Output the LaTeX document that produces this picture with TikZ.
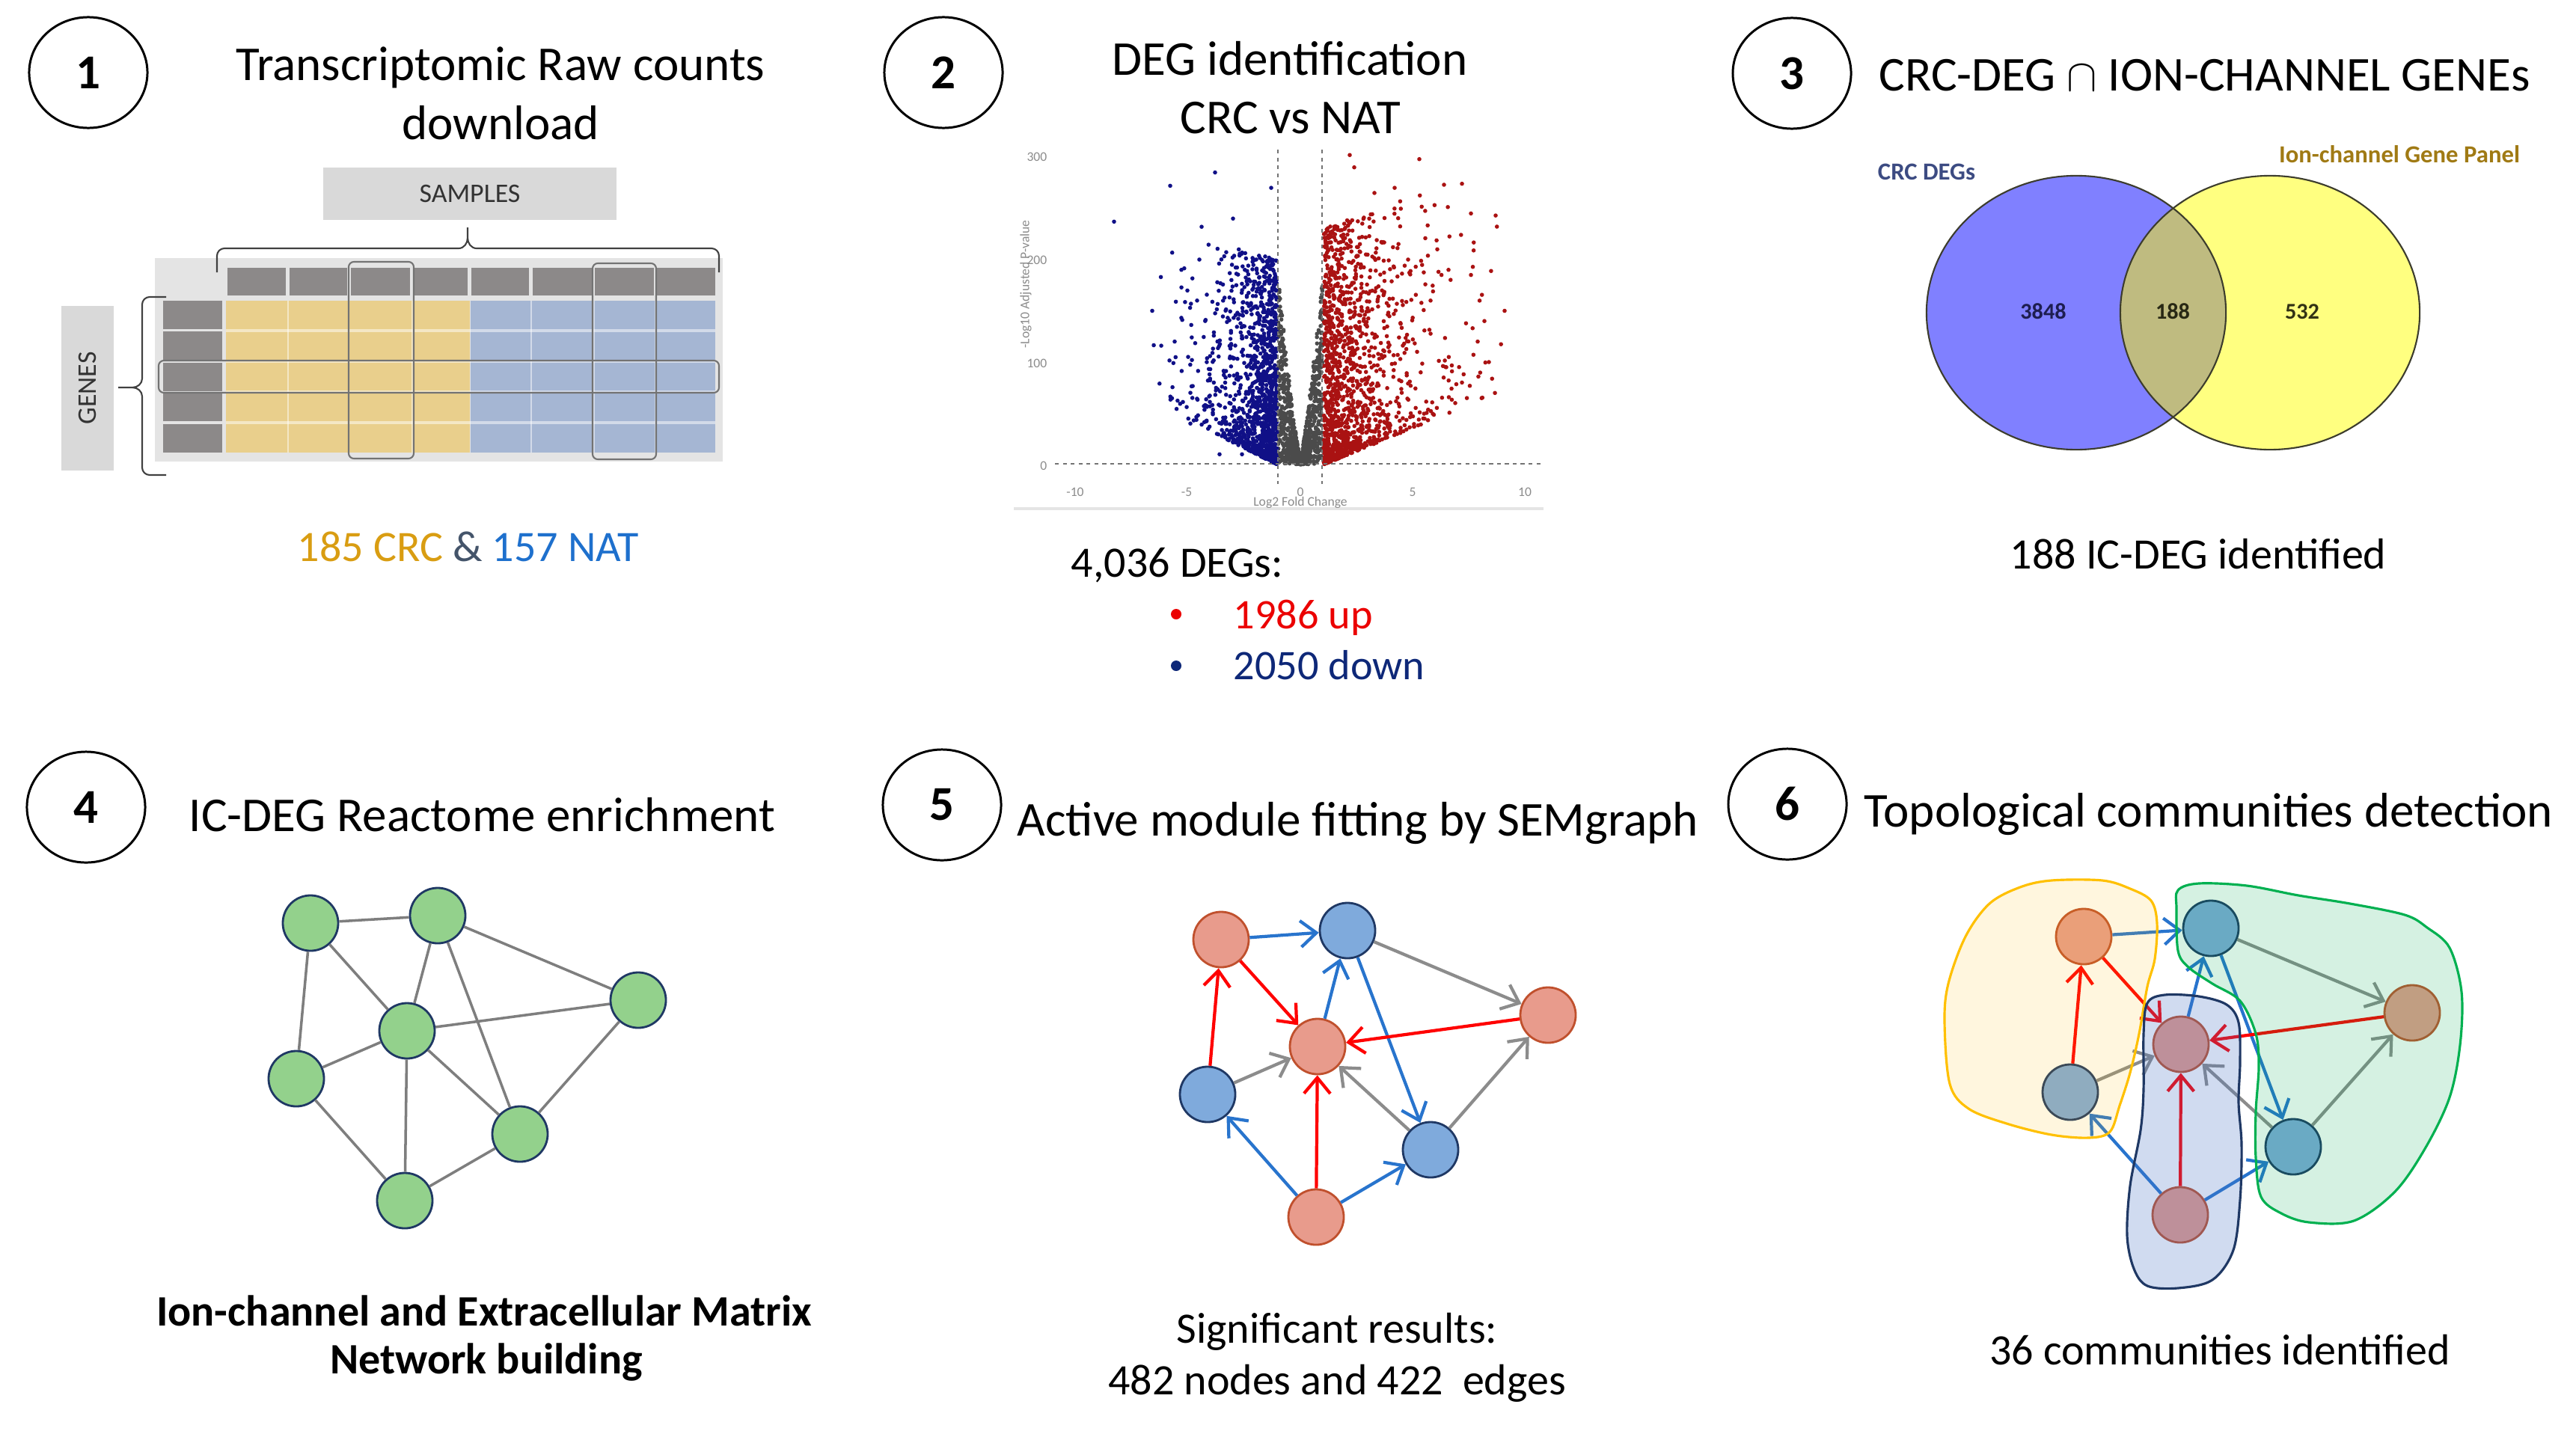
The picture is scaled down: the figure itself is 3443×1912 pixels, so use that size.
\documentclass[tikz,border=0pt]{standalone}
\usepackage{fontspec}
\setmainfont{Carlito}
\usetikzlibrary{shapes.geometric,arrows.meta}
\definecolor{cGold}{RGB}{217,157,18}
\definecolor{cAmp}{RGB}{68,84,106}
\definecolor{cNat}{RGB}{30,112,205}
\definecolor{cUp}{RGB}{235,0,0}
\definecolor{cDown}{RGB}{14,40,120}
\definecolor{tGray}{RGB}{140,137,137}
\definecolor{tBg}{RGB}{228,228,228}
\definecolor{tYel}{RGB}{233,207,140}
\definecolor{tBlu}{RGB}{165,182,211}
\definecolor{lblBox}{RGB}{217,217,217}
\definecolor{vRed}{RGB}{170,18,18}
\definecolor{vBlue}{RGB}{16,16,135}
\definecolor{vGray}{RGB}{75,75,75}
\definecolor{venBlue}{RGB}{128,128,255}
\definecolor{venYel}{RGB}{255,255,128}
\definecolor{venOl}{RGB}{191,187,128}
\definecolor{venLine}{RGB}{60,60,45}
\definecolor{gFill}{RGB}{147,209,140}
\definecolor{nNavy}{RGB}{31,56,100}
\definecolor{nSalmon}{RGB}{232,155,140}
\definecolor{nSalmonL}{RGB}{192,80,45}
\definecolor{nBlue}{RGB}{127,170,220}
\definecolor{eBlue}{RGB}{40,116,205}
\definecolor{eRed}{RGB}{255,0,0}
\definecolor{eGray}{RGB}{140,140,140}
\definecolor{bYel}{RGB}{255,192,0}
\definecolor{bGreen}{RGB}{0,176,80}
\definecolor{bBlueF}{RGB}{68,114,196}
\tikzset{
 numc/.style={draw, ellipse, line width=0.85pt, minimum width=1.58cm, minimum height=1.48cm, inner sep=0pt, font=\fontsize{18.5}{22}\selectfont\bfseries},
 ttl/.style={font=\fontsize{18.5}{22}\selectfont, inner sep=0pt},
 lbl/.style={font=\fontsize{16.5}{20}\selectfont, inner sep=0pt},
 gnode/.style={circle, draw=nNavy, fill=gFill, line width=0.8pt, minimum size=0.74cm, inner sep=0pt},
 rnode/.style={circle, draw=nSalmonL, fill=nSalmon, line width=0.8pt, minimum size=0.74cm, inner sep=0pt},
 bnode/.style={circle, draw=nNavy, fill=nBlue, line width=0.8pt, minimum size=0.74cm, inner sep=0pt},
 gline/.style={draw=eGray!90!black, line width=1pt},
 arr/.style={line width=1.2pt, -{Straight Barb[length=6pt,width=10pt]}},
 ered/.style={arr, draw=eRed},
 eblue/.style={arr, draw=eBlue},
 egray/.style={arr, draw=eGray},
 bracec/.style={draw=black!75, line width=0.6pt},
 overl/.style={draw=black!55, line width=0.6pt, rounded corners=2pt},
 tick/.style={font=\fontsize{5}{6}\selectfont, text=black!45, inner sep=0pt},
 blob/.style={line width=0.9pt},
}
\begin{document}
\begin{tikzpicture}[x=0.01cm, y=-0.01cm]
\useasboundingbox (0,0) rectangle (3443,1912);
\fill[white] (0,0) rectangle (3443,1912);

%% ================= PANEL 1 =================
\node[numc] (c1) at (118,97) {1};
\node[ttl, anchor=base] (t1a) at (669,107) {Transcriptomic Raw counts};
\node[ttl, anchor=base] (t1b) at (669,186) {download};
\node[fill=lblBox, minimum width=3.91cm, minimum height=0.69cm, inner sep=0pt,
      font=\fontsize{10.2}{12}\selectfont, text=black!80] (samp) at (628,259) {SAMPLES};
\node[fill=lblBox, minimum width=2.20cm, minimum height=0.70cm, inner sep=0pt, rotate=90,
      font=\fontsize{10.2}{12}\selectfont, text=black!80] (genes) at (117,519) {GENES};
% table
\fill[tBg] (207,345) rectangle (966,617);
\foreach \a/\b in {304/382,387/464,469/548,553/625,630/707,712/792,795/874,877/956}
  \fill[tGray] (\a,358) rectangle (\b,395);
\fill[tYel] (302,402) rectangle (628,605);
\fill[tBlu] (629,402) rectangle (956,605);
\foreach \x in {385,466,551,710,794,876}
  \draw[white, opacity=0.5, line width=0.7pt] (\x,402) -- (\x,605);
\foreach \y in {442,483,524,565}
  \draw[white, opacity=0.5, line width=0.9pt] (302,\y) -- (956,\y);
\foreach \a/\b in {402/440,443/482,485/523,525/563,567/605}
  \fill[tGray] (218,\a) rectangle (297,\b);
\draw[overl] (466,350) rectangle (553,613);
\draw[overl] (792,352) rectangle (877,614);
\draw[overl] (212,482) rectangle (961,525);
% braces
\draw[bracec] (290,364) -- (290,342) to[out=90,in=180] (300,332) -- (613,332) to[out=0,in=-90] (625,318) -- (625,304);
\draw[bracec] (625,318) to[out=-90,in=180] (637,332) -- (951,332) to[out=0,in=90] (961,342) -- (961,364);
\draw[bracec] (222,397) -- (200,397) to[out=180,in=90] (190,407) -- (190,506) to[out=-90,in=0] (177,518) -- (158,518);
\draw[bracec] (177,518) to[out=0,in=90] (190,530) -- (190,625) to[out=-90,in=180] (200,635) -- (222,635);
\node[lbl, anchor=base] (cnt1) at (626,750) {\textcolor{cGold}{185 CRC} \textcolor{cAmp}{\&} \textcolor{cNat}{157 NAT}};

%% ================= PANEL 2 =================
\node[numc] (c2) at (1261,97) {2};
\node[ttl, anchor=base] (t2a) at (1724,100) {DEG identification};
\node[ttl, anchor=base] (t2b) at (1725,178) {CRC vs NAT};
% volcano
\draw[black!10, line width=1pt] (1355,680) -- (2063,680);
\pgfmathsetseed{20}
\foreach \i in {1,...,900}{
  \pgfmathsetmacro{\fc}{1.98*rnd-0.99}
  \pgfmathsetmacro{\pp}{(6+180*(abs(\fc)+0.001)^1.25)*(0.01+0.99*rnd)^1.1}
  \fill[vGray] ({1738+30*\fc},{621-1.37*\pp}) circle[radius=0.028cm];
}
\foreach \i in {1,...,1300}{
  \pgfmathsetmacro{\d}{-1.05*ln(0.005+0.995*rnd)}
  \pgfmathsetmacro{\pmin}{11*\d}
  \pgfmathsetmacro{\pp}{\pmin+(200+6*\d-\pmin)*(0.01+0.99*rnd)^1.9}
  \fill[vBlue] ({1738-30*(1.04+\d)},{621-1.37*\pp}) circle[radius=0.028cm];
}
\foreach \i in {1,...,1400}{
  \pgfmathsetmacro{\d}{-1.45*ln(0.004+0.996*rnd)}
  \pgfmathsetmacro{\pmin}{9*\d}
  \pgfmathsetmacro{\pp}{\pmin+(230+8*\d-\pmin)*(0.01+0.99*rnd)^1.8}
  \fill[vRed] ({1738+30*(1.04+\d)},{621-1.37*\pp}) circle[radius=0.028cm];
}
\foreach \f/\p in {-8.3/237,-6.6/150,-5.8/272,-3.8/285,-1.3/270,-4.4/232,-5.3/190,-5.6/120,-4.9/70,-3.6/10,-2.6/10,-4.9/40,-4.5/200,-3.0/240,-5.0/105,-4.6/160}
  \fill[vBlue] ({1738+30*\f},{621-1.37*\p}) circle[radius=0.028cm];
\foreach \f/\p in {2.2/302,2.4/290,5.3/298,6.4/273,7.2/274,8.7/243,9.1/150,8.4/100,7.6/245,6.6/190,7.6/185,5.2/110,4.2/270,3.3/265,6.9/60,7.2/80,8.2/140,7.9/120,6.1/210,5.8/160,6.5/95,4.8/200}
  \fill[vRed] ({1738+30*\f},{621-1.37*\p}) circle[radius=0.028cm];
\draw[black!55, line width=0.5pt, dash pattern=on 1.5pt off 1.5pt] (1708,200) -- (1708,647);
\draw[black!55, line width=0.5pt, dash pattern=on 1.5pt off 1.5pt] (1767,200) -- (1767,647);
\draw[black!55, line width=0.5pt, dash pattern=on 1.5pt off 1.5pt] (1410,620) -- (2059,620);
\foreach \v/\y in {300/210,200/348,100/486,0/623}
  \node[tick, anchor=east] at (1400,\y) {\v};
\foreach \v/\x in {-10/1437,-5/1586,0/1738,5/1888,10/2038}
  \node[tick] at (\x,658) {\v};
\node[tick] (xl) at (1738,672) {Log2 Fold Change};
\node[tick, rotate=90] (yl) at (1371,380) {-Log10 Adjusted P-value};
% text
\node[lbl, anchor=base west] (deg) at (1431,771) {4,036 DEGs:};
\node[circle, fill=cUp, minimum size=0.14cm, inner sep=0pt] (bu1) at (1572,821) {};
\node[circle, fill=cDown, minimum size=0.14cm, inner sep=0pt] (bu2) at (1572,890) {};
\node[font=\fontsize{16}{19}\selectfont, inner sep=0pt, anchor=base west, text=cUp] (up) at (1648,840) {1986 up};
\node[font=\fontsize{16}{19}\selectfont, inner sep=0pt, anchor=base west, text=cDown] (down) at (1648,908) {2050 down};

%% ================= PANEL 3 =================
\node[numc] (c3) at (2395,98) {3};
\node[ttl, anchor=base west] (t3) at (2511,121) {CRC-DEG $\cap$ ION-CHANNEL GENEs};
\fill[venBlue] (2775,418) ellipse (2.00cm and 1.83cm);
\fill[venYel] (3034,418) ellipse (2.00cm and 1.83cm);
\begin{scope}
  \clip (2775,418) ellipse (2.00cm and 1.83cm);
  \fill[venOl] (3034,418) ellipse (2.00cm and 1.83cm);
\end{scope}
\draw[venLine, line width=0.6pt] (2775,418) ellipse (2.00cm and 1.83cm);
\draw[venLine, line width=0.6pt] (3034,418) ellipse (2.00cm and 1.83cm);
\node[font=\fontsize{9.3}{11}\selectfont\bfseries, text={rgb,255:red,60;green,75;blue,130}, inner sep=0pt, anchor=base] (lc) at (2575,240) {CRC DEGs};
\node[font=\fontsize{9.3}{11}\selectfont\bfseries, text={rgb,255:red,160;green,122;blue,20}, inner sep=0pt, anchor=base] (li) at (3207,217) {Ion-channel Gene Panel};
\node[font=\fontsize{8.6}{10}\selectfont\bfseries, text={rgb,255:red,30;green,30;blue,80}, inner sep=0pt, anchor=base] (n1) at (2731,426) {3848};
\node[font=\fontsize{8.6}{10}\selectfont\bfseries, text={rgb,255:red,40;green,40;blue,20}, inner sep=0pt, anchor=base] (n2) at (2904,426) {188};
\node[font=\fontsize{8.6}{10}\selectfont\bfseries, text={rgb,255:red,50;green,50;blue,20}, inner sep=0pt, anchor=base] (n3) at (3077,426) {532};
\node[lbl, anchor=base] (ic) at (2938,760) {188 IC-DEG identified};

%% ================= PANEL 4 =================
\node[numc] (c4) at (115,1079) {4};
\node[ttl, anchor=base west] (t4) at (252,1111) {IC-DEG Reactome enrichment};
\node[gnode] (g1) at (415,1234) {};
\node[gnode] (g2) at (585,1224) {};
\node[gnode] (g3) at (853,1337) {};
\node[gnode] (g4) at (544,1378) {};
\node[gnode] (g5) at (396,1442) {};
\node[gnode] (g6) at (695,1516) {};
\node[gnode] (g7) at (541,1605) {};
\foreach \a/\b in {g1/g2,g1/g4,g1/g5,g2/g4,g2/g6,g2/g3,g4/g3,g4/g5,g4/g6,g4/g7,g5/g7,g6/g7,g3/g6}
  \draw[gline] (\a) -- (\b);
\node[lbl, font=\fontsize{16.5}{20}\selectfont\bfseries, anchor=base] (b4a) at (647,1772) {Ion-channel and Extracellular Matrix};
\node[lbl, font=\fontsize{16.5}{20}\selectfont\bfseries, anchor=base] (b4b) at (650,1836) {Network building};

%% ================= PANEL 5 =================
\node[numc] (c5) at (1259,1076) {5};
\node[ttl, anchor=base west] (t5) at (1359,1117) {Active module fitting by SEMgraph};
\node[rnode] (p1) at (1632,1256) {};
\node[bnode] (p2) at (1801,1244) {};
\node[rnode] (p3) at (2069,1357) {};
\node[rnode] (p4) at (1761,1399) {};
\node[bnode] (p5) at (1614,1463) {};
\node[bnode] (p6) at (1912,1537) {};
\node[rnode] (p7) at (1759,1627) {};
\draw[eblue] (p1) -- (p2);
\draw[ered] (p1) -- (p4);
\draw[ered] (p5) -- (p1);
\draw[eblue] (p4) -- (p2);
\draw[eblue] (p2) -- (p6);
\draw[egray] (p2) -- (p3);
\draw[ered] (p3) -- (p4);
\draw[egray] (p5) -- (p4);
\draw[egray] (p6) -- (p4);
\draw[egray] (p6) -- (p3);
\draw[ered] (p7) -- (p4);
\draw[eblue] (p7) -- (p5);
\draw[eblue] (p7) -- (p6);
\node[lbl, anchor=base] (s5a) at (1787,1795) {Significant results:};
\node[lbl, anchor=base] (s5b) at (1787,1864) {482 nodes and 422\ \ edges};

%% ================= PANEL 6 =================
\node[numc] (c6) at (2389,1075) {6};
\node[ttl, anchor=base west] (t6) at (2491,1105) {Topological communities detection};
\node[rnode] (m1) at (2785,1252) {};
\node[bnode] (m2) at (2955,1241) {};
\node[rnode] (m3) at (3224,1354) {};
\node[rnode] (m4) at (2915,1396) {};
\node[bnode] (m5) at (2767,1460) {};
\node[bnode] (m6) at (3065,1533) {};
\node[rnode] (m7) at (2914,1624) {};
\draw[eblue] (m1) -- (m2);
\draw[ered] (m1) -- (m4);
\draw[ered] (m5) -- (m1);
\draw[eblue] (m4) -- (m2);
\draw[eblue] (m2) -- (m6);
\draw[egray] (m2) -- (m3);
\draw[ered] (m3) -- (m4);
\draw[egray] (m5) -- (m4);
\draw[egray] (m6) -- (m4);
\draw[egray] (m6) -- (m3);
\draw[ered] (m7) -- (m4);
\draw[eblue] (m7) -- (m5);
\draw[eblue] (m7) -- (m6);
% community blobs
\filldraw[blob, draw=bYel, fill=bYel, fill opacity=0.13] plot[smooth cycle, tension=0.55] coordinates {
 (2700,1186) (2742,1177) (2810,1177) (2847,1188) (2875,1204) (2883,1234) (2880,1282) (2870,1319)
 (2859,1382) (2847,1434) (2833,1478) (2820,1513) (2792,1521) (2742,1517) (2682,1502) (2631,1482)
 (2606,1449) (2599,1367) (2604,1315) (2627,1252) (2659,1208)};
\filldraw[blob, draw=bGreen, fill=bGreen, fill opacity=0.165] plot[smooth cycle, tension=0.55] coordinates {
 (2911,1190) (2939,1181) (3003,1184) (3072,1197) (3141,1208) (3214,1223) (3244,1240) (3274,1267)
 (3290,1326) (3288,1397) (3274,1467) (3242,1534) (3201,1593) (3146,1632) (3086,1634) (3049,1622)
 (3022,1600) (3015,1548) (3015,1486) (3019,1426) (3015,1382) (2994,1338) (2957,1315) (2925,1293)
 (2911,1271) (2909,1215)};
\filldraw[blob, draw=nNavy, fill=bBlueF, fill opacity=0.25] plot[smooth cycle, tension=0.55] coordinates {
 (2870,1341) (2893,1330) (2939,1332) (2976,1343) (2992,1367) (2994,1419) (2992,1474) (2996,1530)
 (2994,1604) (2985,1671) (2957,1711) (2911,1722) (2870,1719) (2852,1696) (2843,1652) (2847,1585)
 (2861,1511) (2865,1456) (2865,1382)};
\node[lbl, anchor=base] (s6) at (2967,1824) {36 communities identified};
\end{tikzpicture}
\end{document}
